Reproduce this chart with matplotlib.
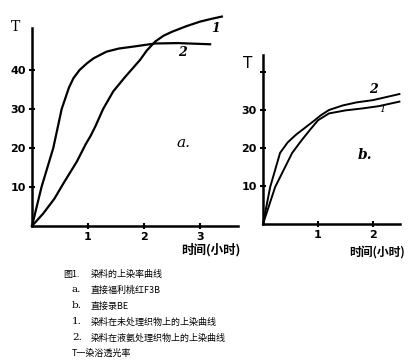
import matplotlib
matplotlib.use("Agg")
import matplotlib.pyplot as plt

plt.rcParams['font.family'] = ['Noto Sans CJK SC', 'DejaVu Sans']

# 图 a: 直接福利桃红F3B
a1_x = [0, 0.2, 0.4, 0.56, 0.8, 0.96, 1.05, 1.13, 1.27, 1.45, 1.65, 1.93, 2.05, 2.2, 2.35, 2.5, 2.75, 3.0, 3.2, 3.39]
a1_y = [0, 3.2, 7.0, 10.9, 16.5, 21, 23.2, 25.5, 30, 34.5, 38, 42.6, 45.0, 47.3, 48.8, 49.8, 51.2, 52.4, 53.1, 53.7]
a2_x = [0, 0.17, 0.38, 0.53, 0.66, 0.74, 0.85, 0.98, 1.1, 1.33, 1.55, 1.81, 2.2, 2.6, 3.18]
a2_y = [0, 10, 20, 30, 35.5, 37.9, 40.0, 41.7, 43.0, 44.7, 45.5, 46, 46.8, 46.9, 46.6]

# 图 b: 直接录BE
b1_x = [0, 0.22, 0.53, 0.7, 0.85, 1.0, 1.2, 1.5, 1.8, 2.1, 2.48]
b1_y = [0, 9.7, 18.7, 22.0, 24.7, 27.3, 29.1, 29.9, 30.4, 31.0, 32.2]
b2_x = [0, 0.13, 0.31, 0.45, 0.6, 0.94, 1.05, 1.2, 1.45, 1.7, 2.0, 2.48]
b2_y = [0, 9.7, 18.7, 21.5, 23.5, 27.3, 28.6, 30, 31.2, 32, 32.6, 34.2]

a_xticks = [1, 2, 3]
a_yticks = [10, 20, 30, 40]
b_xticks = [1, 2]
b_yticks = [10, 20, 30, 40]
b_yticklabels = ['10', '20', '30', '']

cap_keys = ['a.', 'b.', '1.', '2.']
cap_texts = ['直接福利桃红F3B', '直接录BE',
             '染料在未处理织物上的上染曲线',
             '染料在液氨处理织物上的上染曲线']

W, H = 419, 363
fig = plt.figure(figsize=(W / 100, H / 100), dpi=100)


def setup(ax, xmax, ymax):
    for s in ['top', 'right']:
        ax.spines[s].set_visible(False)
    ax.spines['left'].set_bounds(0, ymax)
    ax.spines['bottom'].set_bounds(0, xmax)
    ax.spines['left'].set_linewidth(1.8)
    ax.spines['bottom'].set_linewidth(1.8)
    ax.tick_params(direction='inout', length=5, width=1.5, labelsize=8, pad=2)
    for lab in ax.get_xticklabels() + ax.get_yticklabels():
        lab.set_fontweight('bold')
        lab.set_family('DejaVu Sans')
    ax.patch.set_alpha(0)


lbl = dict(style='italic', family='DejaVu Serif', ha='center', va='center')

# panel a
ax = fig.add_axes([32 / W, (H - 226) / H, 3.75 * 56 / W, 56 * 3.9 / H])
ax.set_xlim(0, 3.75)
ax.set_ylim(0, 56)
ax.plot(a1_x, a1_y, color='black', lw=1.6, clip_on=False)
ax.plot(a2_x, a2_y, color='black', lw=1.6, clip_on=False)
ax.set_xticks(a_xticks)
ax.set_yticks(a_yticks)
setup(ax, 3.68, 50.8)
ax.text(3.27, 50.6, '1', fontsize=9, fontweight='bold', **lbl)
ax.text(2.68, 44.4, '2', fontsize=9, fontweight='bold', **lbl)
ax.text(2.7, 21.3, 'a.', fontsize=11, **lbl)

# panel b
bx = fig.add_axes([263 / W, (H - 224) / H, 2.55 * 55 / W, 45 * 3.8 / H])
bx.set_xlim(0, 2.55)
bx.set_ylim(0, 45)
bx.plot(b1_x, b1_y, color='black', lw=1.4, clip_on=False)
bx.plot(b2_x, b2_y, color='black', lw=1.4, clip_on=False)
bx.set_xticks(b_xticks)
bx.set_yticks(b_yticks)
bx.set_yticklabels(b_yticklabels)
setup(bx, 2.49, 44.5)
bx.text(2.0, 35.3, '2', fontsize=9, fontweight='bold', **lbl)
bx.text(2.17, 30.0, '1', fontsize=7, **lbl)
bx.text(1.86, 18.2, 'b.', fontsize=10, fontweight='bold', **lbl)

# axis titles
fig.text(15 / W, 1 - 27 / H, 'T', fontsize=10, family='DejaVu Serif', ha='center', va='center')
fig.text(248 / W, 1 - 64 / H, 'T', fontsize=11, family='DejaVu Sans', ha='center', va='center')
fig.text(211 / W, 1 - 250 / H, '时间(小时)', fontsize=9, fontweight='bold', ha='center', va='center')
fig.text(377 / W, 1 - 252 / H, '时间(小时)', fontsize=8.5, fontweight='bold', ha='center', va='center')

# caption
cap = dict(fontsize=6.5, ha='left', va='center', fontweight='medium')
key = dict(fontsize=7.5, ha='left', va='center', family=['DejaVu Serif'])
fig.text(63 / W, 1 - 274 / H, '图1.', **cap)
fig.text(91 / W, 1 - 274 / H, '染料的上染率曲线', **cap)
for i, (k, t) in enumerate(zip(cap_keys, cap_texts)):
    y = 1 - (290 + 16 * i) / H
    fig.text(72 / W, y, k, **key)
    fig.text(91 / W, y, t, **cap)
fig.text(72 / W, 1 - 353 / H, 'T一染浴透光率', **cap)

fig.savefig('out.png', dpi=100)
